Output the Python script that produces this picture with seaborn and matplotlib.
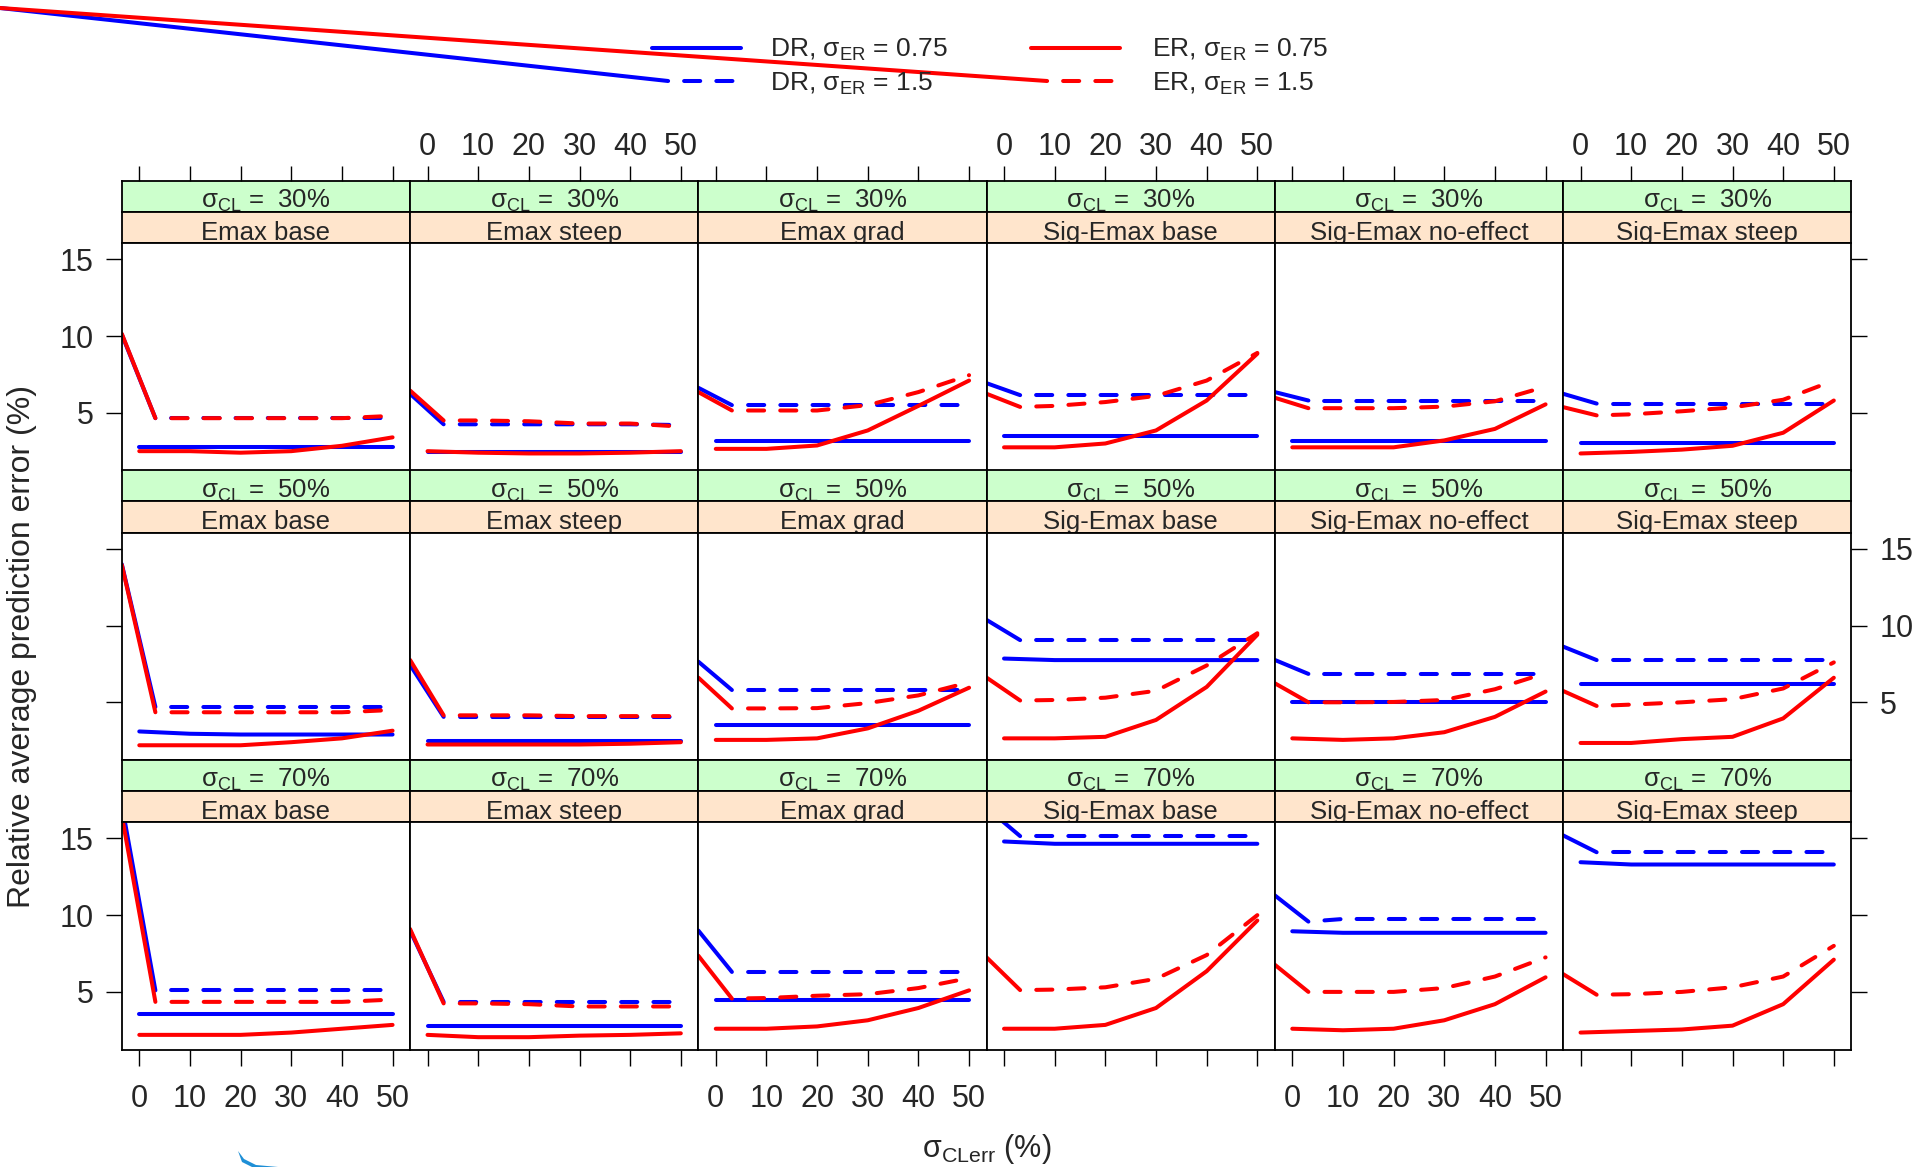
import numpy as np
import pandas as pd
import matplotlib
matplotlib.use("Agg")
import matplotlib.pyplot as plt
from matplotlib.patches import Polygon
import seaborn as sns

# ---------------- data ----------------
X_ERR = [0, 10, 20, 30, 40, 50]
MODELS = ["Emax base", "Emax steep", "Emax grad",
          "Sig-Emax base", "Sig-Emax no-effect", "Sig-Emax steep"]
SIGMA_CL = ["30%", "50%", "70%"]
X_TICKS = [0, 10, 20, 30, 40, 50]
Y_TICKS = [5, 10, 15]

# sigma_CL = 30 %
DR075_30 = [[2.75, 2.75, 2.75, 2.75, 2.75, 2.75],
            [2.45, 2.45, 2.45, 2.45, 2.45, 2.45],
            [3.15, 3.15, 3.15, 3.15, 3.15, 3.15],
            [3.5, 3.5, 3.5, 3.5, 3.5, 3.5],
            [3.15, 3.15, 3.15, 3.15, 3.15, 3.15],
            [3.0, 3.0, 3.0, 3.0, 3.0, 3.0]]
ER075_30 = [[2.5, 2.5, 2.4, 2.5, 2.85, 3.4],
            [2.5, 2.4, 2.35, 2.35, 2.4, 2.5],
            [2.65, 2.65, 2.87, 3.85, 5.45, 7.1],
            [2.75, 2.75, 3.0, 3.85, 5.8, 8.85],
            [2.75, 2.75, 2.75, 3.2, 3.95, 5.55],
            [2.35, 2.45, 2.6, 2.85, 3.7, 5.8]]
DR15_30 = [[4.65, 4.65, 4.65, 4.65, 4.65, 4.65],
           [4.25, 4.25, 4.25, 4.25, 4.25, 4.2],
           [5.5, 5.5, 5.5, 5.5, 5.5, 5.5],
           [6.15, 6.15, 6.15, 6.15, 6.15, 6.15],
           [5.8, 5.8, 5.8, 5.8, 5.8, 5.8],
           [5.6, 5.6, 5.6, 5.6, 5.6, 5.6]]
ER15_30 = [[4.65, 4.65, 4.65, 4.65, 4.65, 4.8],
           [4.5, 4.5, 4.45, 4.3, 4.3, 4.1],
           [5.15, 5.15, 5.15, 5.5, 6.35, 7.45],
           [5.35, 5.45, 5.7, 6.1, 7.1, 8.9],
           [5.3, 5.3, 5.3, 5.4, 5.75, 6.7],
           [4.8, 4.9, 5.1, 5.35, 5.85, 7.1]]
DR15_LEAD_30 = [10.1, 6.24, 6.63, 6.93, 6.35, 6.24]
ER15_LEAD_30 = [10.15, 6.45, 6.35, 6.24, 5.98, 5.37]

# sigma_CL = 50 %
DR075_50 = [[3.1, 2.95, 2.9, 2.9, 2.9, 2.9],
            [2.45, 2.45, 2.45, 2.45, 2.45, 2.45],
            [3.55, 3.55, 3.55, 3.55, 3.55, 3.55],
            [7.85, 7.75, 7.75, 7.75, 7.75, 7.75],
            [5.0, 5.0, 5.0, 5.0, 5.0, 5.0],
            [6.2, 6.2, 6.2, 6.2, 6.2, 6.2]]
ER075_50 = [[2.2, 2.2, 2.2, 2.4, 2.65, 3.15],
            [2.25, 2.25, 2.25, 2.25, 2.3, 2.4],
            [2.55, 2.55, 2.65, 3.3, 4.45, 5.95],
            [2.65, 2.65, 2.75, 3.85, 6.0, 9.4],
            [2.65, 2.55, 2.65, 3.05, 4.05, 5.7],
            [2.35, 2.35, 2.6, 2.75, 3.95, 6.6]]
DR15_50 = [[4.7, 4.7, 4.7, 4.7, 4.7, 4.7],
           [4.05, 4.05, 4.05, 4.05, 4.05, 4.05],
           [5.8, 5.8, 5.8, 5.8, 5.8, 5.8],
           [9.05, 9.05, 9.05, 9.05, 9.05, 9.05],
           [6.85, 6.85, 6.85, 6.85, 6.85, 6.85],
           [7.75, 7.75, 7.75, 7.75, 7.75, 7.75]]
ER15_50 = [[4.35, 4.35, 4.35, 4.35, 4.35, 4.5],
           [4.15, 4.15, 4.15, 4.1, 4.1, 4.1],
           [4.6, 4.6, 4.62, 4.95, 5.45, 6.3],
           [5.1, 5.15, 5.3, 5.75, 7.4, 9.5],
           [5.0, 5.0, 5.02, 5.15, 5.85, 6.9],
           [4.72, 4.85, 5.0, 5.2, 5.9, 7.6]]
DR15_LEAD_50 = [14.0, 7.44, 7.65, 10.37, 7.76, 8.63]
ER15_LEAD_50 = [13.96, 7.76, 6.61, 6.61, 6.24, 5.74]

# sigma_CL = 70 %
DR075_70 = [[3.55, 3.55, 3.55, 3.55, 3.55, 3.55],
            [2.75, 2.75, 2.75, 2.75, 2.75, 2.75],
            [4.45, 4.45, 4.45, 4.45, 4.45, 4.45],
            [14.8, 14.65, 14.65, 14.65, 14.65, 14.65],
            [8.95, 8.85, 8.85, 8.85, 8.85, 8.85],
            [13.45, 13.3, 13.3, 13.3, 13.3, 13.3]]
ER075_70 = [[2.2, 2.2, 2.2, 2.35, 2.6, 2.85],
            [2.2, 2.05, 2.05, 2.15, 2.2, 2.3],
            [2.6, 2.6, 2.75, 3.15, 3.95, 5.1],
            [2.6, 2.6, 2.85, 3.95, 6.35, 9.65],
            [2.6, 2.5, 2.6, 3.15, 4.2, 5.95],
            [2.35, 2.45, 2.55, 2.8, 4.2, 7.1]]
DR15_70 = [[5.1, 5.1, 5.1, 5.1, 5.1, 5.1],
           [4.35, 4.35, 4.35, 4.35, 4.35, 4.35],
           [6.3, 6.3, 6.3, 6.3, 6.3, 6.3],
           [15.15, 15.15, 15.15, 15.15, 15.15, 15.15],
           [9.5, 9.75, 9.75, 9.75, 9.75, 9.75],
           [14.1, 14.1, 14.1, 14.1, 14.1, 14.1]]
ER15_70 = [[4.35, 4.35, 4.35, 4.35, 4.35, 4.5],
           [4.25, 4.25, 4.2, 4.05, 4.05, 4.05],
           [4.55, 4.6, 4.75, 4.85, 5.25, 5.9],
           [5.1, 5.15, 5.3, 5.85, 7.4, 10.0],
           [5.0, 5.0, 5.0, 5.25, 6.0, 7.25],
           [4.8, 4.85, 5.0, 5.3, 6.0, 8.0]]
DR15_LEAD_70 = [17.2, 9.0, 9.0, 17.0, 11.29, 15.2]
ER15_LEAD_70 = [16.5, 9.1, 7.36, 7.25, 6.77, 6.16]

DR075 = [DR075_30, DR075_50, DR075_70]
ER075 = [ER075_30, ER075_50, ER075_70]
DR15 = [DR15_30, DR15_50, DR15_70]
ER15 = [ER15_30, ER15_50, ER15_70]
DR15_LEAD = [DR15_LEAD_30, DR15_LEAD_50, DR15_LEAD_70]
ER15_LEAD = [ER15_LEAD_30, ER15_LEAD_50, ER15_LEAD_70]

LEGEND_LABELS = [r"DR, $\mathregular{σ_{ER}}$ = 0.75", r"DR, $\mathregular{σ_{ER}}$ = 1.5",
                 r"ER, $\mathregular{σ_{ER}}$ = 0.75", r"ER, $\mathregular{σ_{ER}}$ = 1.5"]

# ---------------- style ----------------
sns.set_theme(style="white")
plt.rcParams["font.family"] = ["Liberation Sans", "DejaVu Sans"]
plt.rcParams["mathtext.fontset"] = "custom"
plt.rcParams["mathtext.rm"] = "Liberation Sans"
plt.rcParams["mathtext.it"] = "Liberation Sans:italic"
plt.rcParams["mathtext.bf"] = "Liberation Sans:bold"

W_PX, H_PX, DPI = 1920, 1167, 100
LEFT = 121.8
COL_W = 288.25
ROW_TOP = [180.7, 470.2, 759.8]
STRIP_H = 31.25
PANEL_H = 227.3
XLIM = (-3.45, 53.45)
YLIM = (1.24, 16.05)
LW = 2.9
DASH_ON = 4
DASHED = (DASH_ON, (4, 4))
BLUE, RED = "#0000FF", "#FF0000"
GREEN, PEACH = "#CCFFCC", "#FFE5CC"
TICK_FS = 22
STRIP_FS = 18.5
SPINE_LW = 1.3

fig = plt.figure(figsize=(W_PX / DPI, H_PX / DPI), dpi=DPI)


def fbox(x0, y0, w, h):
    return [x0 / W_PX, 1 - (y0 + h) / H_PX, w / W_PX, h / H_PX]


def style_spines(a):
    for s in a.spines.values():
        s.set_visible(True)
        s.set_color("black")
        s.set_linewidth(SPINE_LW)


line_kw = dict(estimator=None, sort=False, legend=False, linewidth=LW,
               solid_capstyle="round", solid_joinstyle="round",
               dash_capstyle="round", dash_joinstyle="round")

# first dash length (16 px) in data units
skip = (DASH_ON * LW * DPI / 72) / (COL_W / (XLIM[1] - XLIM[0]))

for r in range(3):
    for c in range(6):
        x0 = LEFT + c * COL_W
        top = ROW_TOP[r]
        ax_g = fig.add_axes(fbox(x0, top, COL_W, STRIP_H))
        ax_o = fig.add_axes(fbox(x0, top + STRIP_H, COL_W, STRIP_H))
        ax = fig.add_axes(fbox(x0, top + 2 * STRIP_H, COL_W, PANEL_H))

        for a, col in ((ax_g, GREEN), (ax_o, PEACH)):
            a.set_facecolor(col)
            style_spines(a)
            a.set_xlim(XLIM)
            a.set_yticks([])
            a.set_xticks([])
        ax_g.text(0.5, 0.13, r"$\mathregular{σ_{CL}}$ =  " + SIGMA_CL[r],
                  transform=ax_g.transAxes, ha="center", va="baseline", fontsize=STRIP_FS)
        ax_o.text(0.5, 0.11, MODELS[c], transform=ax_o.transAxes,
                  ha="center", va="baseline", fontsize=STRIP_FS)
        if r == 0:
            ax_g.set_xticks(X_TICKS)
            ax_g.tick_params(axis="x", top=True, bottom=False, labelbottom=False,
                             labeltop=(c % 2 == 1), direction="out", length=10.5,
                             width=1.0, color="black", labelsize=TICK_FS, pad=3)

        # lines
        dr = DR075[r][c]
        er = ER075[r][c]
        d15 = DR15[r][c]
        e15 = ER15[r][c]
        for sol, dsh, lead, colr in ((dr, d15, DR15_LEAD[r][c], BLUE),
                                     (er, e15, ER15_LEAD[r][c], RED)):
            df_s = pd.DataFrame({"x": X_ERR, "y": sol})
            sns.lineplot(data=df_s, x="x", y="y", color=colr, ax=ax, **line_kw)
            y_skip = float(np.interp(skip, X_ERR, dsh))
            df_lead = pd.DataFrame({"x": [XLIM[0], skip], "y": [lead, y_skip]})
            sns.lineplot(data=df_lead, x="x", y="y", color=colr, ax=ax, **line_kw)
            df_d = pd.DataFrame({"x": [skip] + X_ERR[1:], "y": [y_skip] + dsh[1:]})
            sns.lineplot(data=df_d, x="x", y="y", color=colr, ax=ax,
                         linestyle=DASHED, **line_kw)

        ax.set_facecolor("white")
        style_spines(ax)
        ax.set_xlim(XLIM)
        ax.set_ylim(YLIM)
        ax.set_xticks(X_TICKS)
        ax.set_yticks(Y_TICKS)
        ax.set_xlabel("")
        ax.set_ylabel("")
        ax.grid(False)
        ax.tick_params(which="both", direction="out", length=11.5, width=1.0,
                       color="black", labelsize=TICK_FS,
                       bottom=(r == 2), top=False, left=(c == 0), right=(c == 5),
                       labelbottom=(r == 2 and c % 2 == 0), labeltop=False,
                       labelleft=(c == 0 and r != 1), labelright=(c == 5 and r == 1))
        ax.tick_params(axis="x", pad=13)
        ax.tick_params(axis="y", pad=9)

# axis labels
fig.text(22 / W_PX, 1 - 646 / H_PX, "Relative average prediction error (%)",
         rotation=90, ha="center", va="center", fontsize=23)
fig.text(986.5 / W_PX, 1 - 1157 / H_PX, r"$\mathregular{σ_{CLerr}}$ (%)",
         ha="center", va="baseline", fontsize=TICK_FS)

# legend (with its stray connector strokes) in a full-figure overlay
ov = fig.add_axes([0, 0, 1, 1])
ov.set_xlim(0, W_PX)
ov.set_ylim(H_PX, 0)
ov.axis("off")
ov.patch.set_alpha(0)
leg_x = [652, 1031]
leg_len = 89
leg_y = [47.7, 81]
txt_x = [770, 1152]
txt_base = [57.3, 90.7]
first_dash_px = DASH_ON * LW * DPI / 72
for k, colr in enumerate((BLUE, RED)):
    xs = leg_x[k]
    ov.plot([xs, xs + leg_len], [leg_y[0], leg_y[0]], color=colr, lw=LW,
            solid_capstyle="round")
    ov.plot([xs + first_dash_px, xs + leg_len], [leg_y[1], leg_y[1]], color=colr, lw=LW,
            linestyle=DASHED, dash_capstyle="round")
    ov.plot([0, xs + first_dash_px], [8, leg_y[1]], color=colr, lw=LW,
            solid_capstyle="round")
    ov.text(txt_x[k], txt_base[0], LEGEND_LABELS[2 * k], fontsize=19, va="baseline")
    ov.text(txt_x[k], txt_base[1], LEGEND_LABELS[2 * k + 1], fontsize=19, va="baseline")

# small cropped blue swoosh visible at the bottom-left edge of the reference
ov.add_patch(Polygon([(238, 1151), (244, 1159), (256, 1165), (278, 1167),
                      (252, 1167), (242, 1162)], closed=True,
                     facecolor="#1E8FD6", edgecolor="none"))

fig.savefig("out.png", dpi=DPI)
